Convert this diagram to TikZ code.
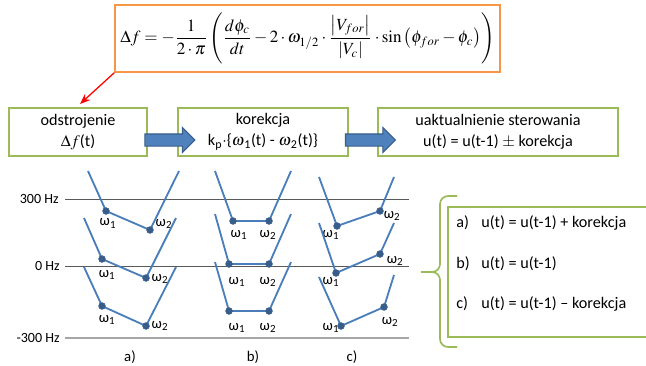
\documentclass[tikz,border=0pt]{standalone}
\usepackage{mathptmx}
\usepackage[no-math]{fontspec}
\setmainfont{Carlito}
\usepackage{graphicx}
\usetikzlibrary{positioning,calc,shapes.arrows,arrows.meta}

\definecolor{ramka}{RGB}{155,187,89}
\definecolor{pomarancz}{RGB}{247,150,70}
\definecolor{niebieski}{RGB}{79,129,189}
\definecolor{granat}{RGB}{56,93,138}
\definecolor{linia}{RGB}{74,126,187}

\begin{document}
\begin{tikzpicture}[
  box/.style={rectangle, draw=ramka, line width=1.4pt, minimum height=1.2cm,
    align=center, inner sep=2pt, font=\fontsize{11.5}{15}\selectfont},
  wzorbox/.style={rectangle, draw=pomarancz, line width=1pt,
    minimum width=9.625cm, minimum height=1.675cm, inner sep=0pt},
  blok/.style={single arrow, draw=granat, fill=niebieski, line width=0.8pt,
    minimum height=1.25cm, inner xsep=0pt, inner ysep=0.1375cm,
    single arrow head extend=0.1625cm},
  czerwona/.style={-{Stealth[length=2.6mm,width=2mm]}, draw=red, line width=0.9pt},
  os/.style={draw=black!65, line width=0.7pt},
  osdol/.style={draw=black!35, line width=1.4pt},
  hz/.style={anchor=east, inner sep=0pt, font=\fontsize{10}{11}\selectfont},
  podpis/.style={inner sep=0pt, font=\fontsize{10.5}{12}\selectfont},
  krzywa/.style={draw=linia, line width=1.3pt},
  kropka/.style={circle, fill=granat, draw=granat, inner sep=0pt, minimum size=0.17cm},
  omega/.style={inner sep=0pt, font=\fontsize{10.5}{12}\selectfont},
  klamra/.style={draw=ramka, line width=1.2pt, rounded corners=0.2cm},
]
\useasboundingbox (0,0) rectangle (16.15,-9.125);

% wzor na odstrojenie
\node[wzorbox] (wzor) at (7.6875,-0.9625)
  {\resizebox{9.35cm}{!}{$\displaystyle \Delta f = -\frac{1}{2\cdot\pi}
   \left(\frac{d\phi_c}{dt} - 2\cdot\omega_{1/2}\cdot
   \frac{\left|V_{for}\right|}{\left|V_c\right|}\cdot
   \sin\left(\phi_{for}-\phi_c\right)\right)$}};

% trzy kroki
\node[box, minimum width=3.45cm] (odstr) at (1.95,-3.3)
  {odstrojenie\\$\Delta f$(t)};
\node[box, minimum width=4.25cm] (korek) at (6.575,-3.3)
  {korekcja\\k\textsubscript{p}$\cdot$\{$\omega$\textsubscript{1}(t) - $\omega$\textsubscript{2}(t)\}};
\node[box, minimum width=6.0cm] (akt) at (12.45,-3.3)
  {uaktualnienie sterowania\\u(t) = u(t-1) $\pm$ korekcja};

\draw[czerwona] (wzor.south west) -- ($(odstr.north)+(0.05,0.075)$);

\node[blok] (s1) at ($(odstr.east)!0.5!(korek.west)+(0.11,-0.2)$) {};
\node[blok] (s2) at ($(korek.east)!0.5!(akt.west)+(0.11,-0.2)$) {};

% osie czestotliwosci
\node[hz] (h300) at (1.475,-4.975) {300 Hz};
\node[hz] (h0) at (1.5,-6.65) {0 Hz};
\node[hz] (hm300) at (1.5,-8.45) {-300 Hz};
\draw[os] ($(h300.east)+(0.15,0)$) -- (10.225,-4.975);
\draw[os] ($(h0.east)+(0.125,0)$) -- (10.225,-6.65);
\draw[osdol] ($(hm300.east)+(0.125,0)$) -- (10.225,-8.45);

% charakterystyki filtrow
\foreach \nazwa/\lg/\wa/\wb/\pg/\oa/\ob in {
  a1/{2.2,-4.275}/{2.65,-5.275}/{3.75,-5.75}/{4.475,-4.275}/{0.05,-0.31}/{0.35,0.15},
  a2/{2.1,-5.45}/{2.55,-6.475}/{3.65,-6.95}/{4.4,-5.45}/{0.13,-0.4}/{0.35,-0.025},
  a3/{2.1,-6.675}/{2.55,-7.65}/{3.65,-8.15}/{4.4,-6.675}/{0.13,-0.35}/{0.35,0},
  b1/{5.375,-4.275}/{5.825,-5.525}/{6.725,-5.525}/{7.275,-4.275}/{0.15,-0.35}/{-0.025,-0.35},
  b2/{5.375,-5.35}/{5.725,-6.6}/{6.725,-6.6}/{7.275,-5.35}/{0.2,-0.45}/{-0.025,-0.45},
  b3/{5.375,-6.55}/{5.725,-7.775}/{6.725,-7.775}/{7.275,-6.55}/{0.2,-0.42}/{-0.025,-0.42},
  c1/{7.975,-4.425}/{8.425,-5.65}/{9.5,-5.275}/{9.85,-4.425}/{-0.15,-0.225}/{0.3,-0.12},
  c2/{7.975,-5.575}/{8.4,-6.825}/{9.5,-6.35}/{9.85,-5.575}/{-0.125,-0.225}/{0.375,-0.175},
  c3/{7.975,-6.925}/{8.525,-8.15}/{9.6,-7.675}/{9.85,-6.875}/{-0.25,-0.05}/{0.15,-0.375}}
{
  \draw[krzywa] (\lg) -- (\wa) coordinate (\nazwa-1) -- (\wb) coordinate (\nazwa-2) -- (\pg);
  \node[kropka] (\nazwa-k1) at (\nazwa-1) {};
  \node[kropka] (\nazwa-k2) at (\nazwa-2) {};
  \node[omega] (\nazwa-o1) at ($(\nazwa-1)+(\oa)$) {ω\textsubscript{1}};
  \node[omega] (\nazwa-o2) at ($(\nazwa-2)+(\ob)$) {ω\textsubscript{2}};
}

\node[podpis] (pa) at (3.25,-8.925) {a)};
\node[podpis] (pb) at (6.325,-8.925) {b)};
\node[podpis] (pc) at (8.8,-8.925) {c)};

% przypadki
\node[rectangle, draw=ramka, line width=1.4pt, minimum width=5.2cm,
  minimum height=3.25cm] (war) at (13.8,-6.8) {};
\node[anchor=north west, inner sep=0pt, align=left,
  font=\fontsize{11.5}{28.8}\selectfont] (przyp) at (11.4,-5.39)
  {\makebox[0.625cm][l]{a)}u(t) = u(t-1) + korekcja\\
   \makebox[0.625cm][l]{b)}u(t) = u(t-1)\\
   \makebox[0.625cm][l]{c)}u(t) = u(t-1) – korekcja};

\coordinate (kg) at ($(war.north west)+(0.25,0.25)$);
\coordinate (kd) at ($(war.south west)+(0.25,-0.225)$);
\coordinate (grot) at ($(war.west)+(-0.65,0)$);
\draw[klamra] (kg) -| ($(grot)+(0.475,0)$) -- (grot);
\draw[klamra] (kd) -| ($(grot)+(0.475,0)$) -- (grot);

\end{tikzpicture}
\end{document}
